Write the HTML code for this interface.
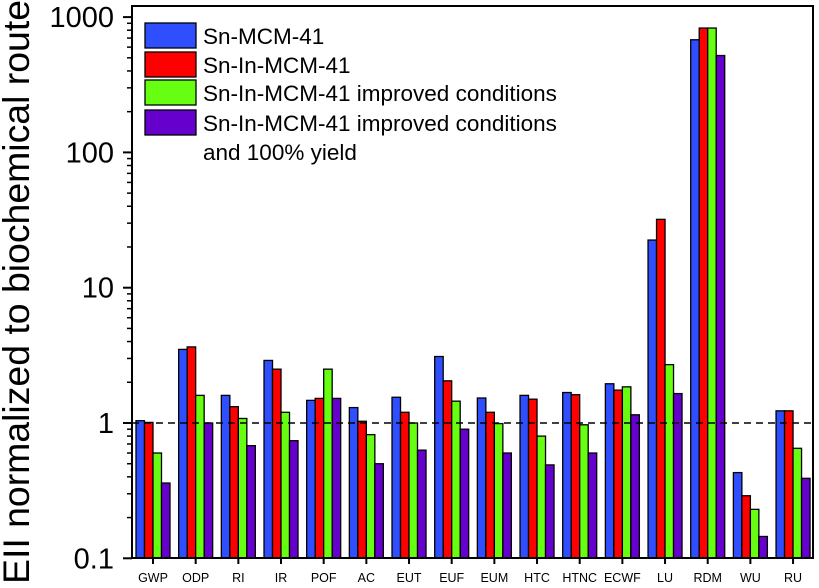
<!DOCTYPE html>
<html><head><meta charset="utf-8"><style>
body{margin:0;background:#fff}
svg{display:block;font-family:"Liberation Sans",Arial,sans-serif}
</style></head><body>
<svg id="c" width="819" height="588"></svg>
<script>
const categories=["GWP","ODP","RI","IR","POF","AC","EUT","EUF","EUM","HTC","HTNC","ECWF","LU","RDM","WU","RU"];
const snMCM=[1.04,3.5,1.6,2.9,1.47,1.3,1.55,3.1,1.53,1.6,1.68,1.95,22.5,680,0.43,1.23];
const snInMCM=[1.01,3.65,1.32,2.5,1.52,1.03,1.2,2.05,1.2,1.5,1.62,1.75,32,830,0.29,1.23];
const improved=[0.6,1.6,1.08,1.2,2.5,0.82,1.0,1.45,0.99,0.8,0.97,1.85,2.7,830,0.23,0.65];
const improved100=[0.36,1.0,0.68,0.74,1.52,0.5,0.63,0.9,0.6,0.49,0.6,1.15,1.65,520,0.145,0.39];
const seriesNames=["Sn-MCM-41","Sn-In-MCM-41","Sn-In-MCM-41 improved conditions","Sn-In-MCM-41 improved conditions"];
const yTicks=[0.1,1,10,100,1000];
const yTickLabels=["0.1","1","10","100","1000"];
const colors=["#2f4fff","#ff0000","#66ff11","#6600cc"];
const series=[snMCM,snInMCM,improved,improved100];
const svg=document.getElementById('c');const NS="http://www.w3.org/2000/svg";
function mk(t,a,p){const e=document.createElementNS(NS,t);for(const k in a)e.setAttribute(k,a[k]);(p||svg).appendChild(e);return e;}
const L=132,R=813,T=6,B=558;
const y=v=>423-Math.log10(v)*135.3;
const x=i=>153+i*42.67;
const bw=8.5;
series.forEach((s,si)=>{s.forEach((v,i)=>{
 const r=mk('rect',{x:x(i)-2*bw+si*bw,y:y(v),width:bw,height:B-y(v),fill:colors[si],stroke:'#000','stroke-width':1.3});
 
 
});});
const ref=mk('line',{x1:L,x2:R,y1:y(1),y2:y(1),stroke:'#000','stroke-width':1.5,'stroke-dasharray':'7,5'});

const fr=mk('rect',{x:L,y:T,width:R-L,height:B-T,fill:'none',stroke:'#000','stroke-width':2});

yTicks.forEach((t,i)=>{
 mk('line',{x1:L-9,x2:L,y1:y(t),y2:y(t),stroke:'#000','stroke-width':2});
 const tx=mk('text',{x:L-18,y:y(t)+10,'font-size':29,'text-anchor':'end'});tx.textContent=yTickLabels[i];
 
 if(i<yTicks.length-1)for(let m=2;m<=9;m++)mk('line',{x1:L-5,x2:L,y1:y(t*m),y2:y(t*m),stroke:'#000','stroke-width':1.5});
});
categories.forEach((c,i)=>{
 mk('line',{x1:x(i),x2:x(i),y1:B,y2:B+6,stroke:'#000','stroke-width':2});
 const tx=mk('text',{x:x(i),y:B+24,'font-size':12.5,'text-anchor':'middle'});tx.textContent=c;
 
});
const yl=mk('text',{x:0,y:0,'font-size':37,'text-anchor':'middle',textLength:584,lengthAdjust:'spacingAndGlyphs',transform:'translate(29,292) rotate(-90)'});
yl.textContent="EII normalized to biochemical route";

const lg=mk('g',{});
const ly=[23,52,80,110];
seriesNames.forEach((n,i)=>{
 const r=mk('rect',{x:145,y:ly[i],width:51,height:25,fill:colors[i],stroke:'#000','stroke-width':1.3},lg);
 
 const t=mk('text',{x:203,y:ly[i]+21,'font-size':22.5},lg);t.textContent=n;
 
});
const t2=mk('text',{x:203,y:160,'font-size':22.5},lg);t2.textContent="and 100% yield";

</script>
</body></html>
